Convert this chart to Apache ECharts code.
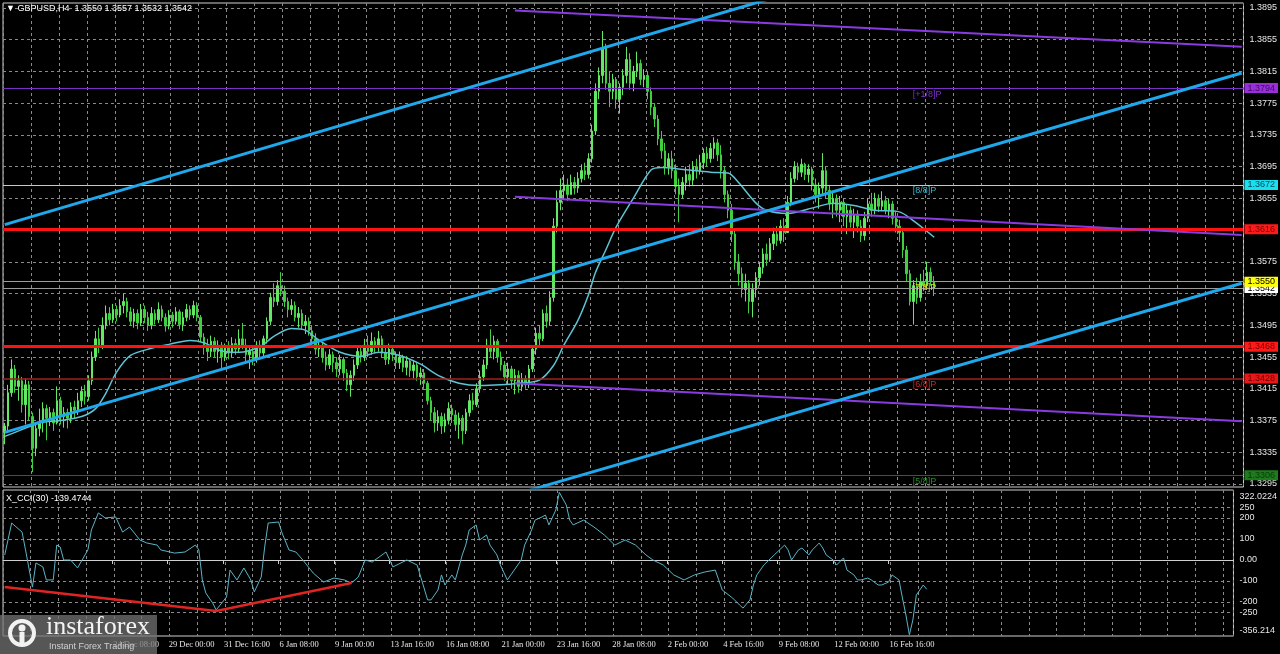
<!DOCTYPE html>
<html><head><meta charset="utf-8">
<script src="https://cdn.jsdelivr.net/npm/echarts@6/dist/echarts.min.js"></script>
<style>html,body{margin:0;padding:0;background:#000;overflow:hidden}#c{width:1280px;height:654px}</style>
</head><body><div id="c"></div>
<script>
// ---------------- DATA ----------------
const N_SLOTS = 355; // bar slots on the time axis (incl. empty right margin)
const firstOpen = 1.3360;
const closes = [
1.3368,1.3410,1.3440,1.3418,1.3425,1.3395,1.3420,1.3380,1.3340,1.3365,
1.3372,1.3390,1.3378,1.3385,1.3372,1.3400,1.3380,1.3385,1.3378,1.3392,
1.3388,1.3400,1.3412,1.3405,1.3425,1.3455,1.3478,1.3470,1.3495,1.3510,
1.3502,1.3515,1.3508,1.3520,1.3525,1.3512,1.3500,1.3510,1.3498,1.3515,
1.3505,1.3495,1.3510,1.3502,1.3515,1.3505,1.3494,1.3508,1.3500,1.3512,
1.3496,1.3505,1.3515,1.3508,1.3520,1.3505,1.3480,1.3470,1.3462,1.3475,
1.3462,1.3470,1.3455,1.3468,1.3460,1.3472,1.3465,1.3478,1.3470,1.3458,
1.3462,1.3452,1.3470,1.3460,1.3478,1.3500,1.3530,1.3525,1.3545,1.3538,
1.3525,1.3515,1.3520,1.3505,1.3510,1.3495,1.3500,1.3488,1.3478,1.3465,
1.3470,1.3455,1.3445,1.3458,1.3448,1.3440,1.3452,1.3435,1.3420,1.3432,
1.3445,1.3462,1.3455,1.3470,1.3462,1.3475,1.3468,1.3478,1.3460,1.3452,
1.3465,1.3458,1.3448,1.3455,1.3442,1.3450,1.3438,1.3445,1.3430,1.3435,
1.3422,1.3400,1.3385,1.3372,1.3380,1.3368,1.3376,1.3390,1.3382,1.3370,
1.3378,1.3362,1.3385,1.3400,1.3395,1.3415,1.3430,1.3445,1.3470,1.3462,
1.3475,1.3455,1.3445,1.3430,1.3440,1.3425,1.3432,1.3418,1.3428,1.3420,
1.3440,1.3465,1.3485,1.3478,1.3510,1.3500,1.3530,1.3620,1.3650,1.3665,
1.3672,1.3660,1.3675,1.3668,1.3680,1.3690,1.3685,1.3705,1.3740,1.3790,
1.3810,1.3845,1.3800,1.3790,1.3805,1.3780,1.3795,1.3810,1.3830,1.3800,
1.3815,1.3825,1.3805,1.3810,1.3790,1.3770,1.3755,1.3730,1.3715,1.3695,
1.3705,1.3690,1.3670,1.3660,1.3675,1.3685,1.3678,1.3695,1.3690,1.3700,
1.3712,1.3705,1.3718,1.3725,1.3710,1.3690,1.3660,1.3640,1.3610,1.3575,
1.3560,1.3540,1.3548,1.3525,1.3540,1.3555,1.3568,1.3585,1.3578,1.3598,
1.3610,1.3602,1.3620,1.3612,1.3650,1.3680,1.3695,1.3688,1.3698,1.3685,
1.3692,1.3672,1.3660,1.3668,1.3690,1.3665,1.3648,1.3655,1.3640,1.3650,
1.3632,1.3640,1.3625,1.3635,1.3620,1.3608,1.3630,1.3648,1.3640,1.3655,
1.3645,1.3652,1.3640,1.3648,1.3630,1.3620,1.3612,1.3590,1.3560,1.3525,
1.3545,1.3530,1.3550,1.3545,1.3562,1.3550,1.3542];
const highs = [
1.3372,1.3420,1.3452,1.3445,1.3432,1.3430,1.3428,1.3425,1.3385,1.3372,
1.3390,1.3398,1.3395,1.3392,1.3390,1.3418,1.3405,1.3392,1.3390,1.3398,
1.3400,1.3410,1.3418,1.3420,1.3432,1.3462,1.3488,1.3492,1.3505,1.3520,
1.3518,1.3522,1.3520,1.3528,1.3535,1.3530,1.3518,1.3516,1.3515,1.3522,
1.3520,1.3512,1.3518,1.3515,1.3524,1.3520,1.3510,1.3514,1.3512,1.3518,
1.3515,1.3512,1.3522,1.3520,1.3526,1.3524,1.3508,1.3485,1.3478,1.3482,
1.3480,1.3476,1.3474,1.3472,1.3475,1.3480,1.3478,1.3490,1.3498,1.3478,
1.3470,1.3468,1.3475,1.3476,1.3482,1.3505,1.3536,1.3548,1.3552,1.3562,
1.3545,1.3530,1.3528,1.3525,1.3518,1.3515,1.3508,1.3505,1.3495,1.3485,
1.3478,1.3474,1.3462,1.3465,1.3462,1.3455,1.3458,1.3455,1.3440,1.3438,
1.3452,1.3468,1.3470,1.3478,1.3482,1.3486,1.3480,1.3488,1.3482,1.3468,
1.3472,1.3470,1.3462,1.3462,1.3458,1.3456,1.3452,1.3450,1.3448,1.3442,
1.3440,1.3425,1.3405,1.3392,1.3388,1.3385,1.3384,1.3398,1.3395,1.3388,
1.3385,1.3382,1.3390,1.3408,1.3410,1.3422,1.3438,1.3452,1.3478,1.3490,
1.3482,1.3478,1.3462,1.3450,1.3448,1.3444,1.3440,1.3438,1.3435,1.3432,
1.3445,1.3470,1.3492,1.3495,1.3515,1.3520,1.3538,1.3630,1.3665,1.3680,
1.3685,1.3680,1.3685,1.3682,1.3688,1.3698,1.3700,1.3712,1.3748,1.3800,
1.3820,1.3866,1.3850,1.3815,1.3812,1.3808,1.3800,1.3818,1.3846,1.3838,
1.3822,1.3840,1.3830,1.3818,1.3815,1.3795,1.3775,1.3760,1.3740,1.3725,
1.3712,1.3715,1.3698,1.3680,1.3682,1.3695,1.3698,1.3702,1.3705,1.3710,
1.3718,1.3720,1.3725,1.3732,1.3730,1.3722,1.3695,1.3665,1.3648,1.3615,
1.3585,1.3568,1.3560,1.3552,1.3548,1.3562,1.3575,1.3592,1.3598,1.3605,
1.3618,1.3620,1.3628,1.3630,1.3658,1.3688,1.3702,1.3700,1.3705,1.3700,
1.3698,1.3695,1.3680,1.3675,1.3712,1.3695,1.3672,1.3662,1.3660,1.3658,
1.3655,1.3648,1.3645,1.3642,1.3640,1.3628,1.3638,1.3655,1.3662,1.3662,
1.3660,1.3664,1.3658,1.3655,1.3652,1.3638,1.3628,1.3618,1.3595,1.3565,
1.3552,1.3555,1.3560,1.3565,1.3575,1.3568,1.3557];
const lows = [
1.3345,1.3362,1.3405,1.3410,1.3400,1.3385,1.3370,1.3375,1.3310,1.3330,
1.3355,1.3360,1.3350,1.3368,1.3362,1.3370,1.3370,1.3366,1.3365,1.3372,
1.3378,1.3382,1.3392,1.3395,1.3400,1.3420,1.3450,1.3460,1.3465,1.3490,
1.3495,1.3498,1.3500,1.3505,1.3510,1.3505,1.3495,1.3492,1.3490,1.3494,
1.3498,1.3488,1.3490,1.3496,1.3498,1.3500,1.3487,1.3490,1.3492,1.3496,
1.3490,1.3488,1.3500,1.3502,1.3504,1.3500,1.3474,1.3458,1.3450,1.3455,
1.3455,1.3448,1.3440,1.3450,1.3452,1.3455,1.3458,1.3460,1.3465,1.3450,
1.3440,1.3445,1.3448,1.3452,1.3455,1.3472,1.3495,1.3518,1.3520,1.3532,
1.3518,1.3505,1.3508,1.3500,1.3492,1.3490,1.3484,1.3482,1.3470,1.3458,
1.3455,1.3448,1.3438,1.3440,1.3436,1.3430,1.3432,1.3425,1.3412,1.3405,
1.3425,1.3440,1.3448,1.3450,1.3455,1.3458,1.3460,1.3462,1.3455,1.3445,
1.3446,1.3450,1.3440,1.3440,1.3436,1.3432,1.3430,1.3428,1.3425,1.3420,
1.3415,1.3395,1.3375,1.3360,1.3362,1.3358,1.3360,1.3370,1.3372,1.3362,
1.3352,1.3345,1.3358,1.3380,1.3388,1.3392,1.3410,1.3425,1.3440,1.3455,
1.3452,1.3448,1.3438,1.3425,1.3420,1.3415,1.3408,1.3410,1.3412,1.3415,
1.3416,1.3436,1.3458,1.3470,1.3475,1.3492,1.3495,1.3525,1.3612,1.3640,
1.3655,1.3652,1.3660,1.3660,1.3662,1.3675,1.3678,1.3680,1.3700,1.3735,
1.3780,1.3800,1.3792,1.3770,1.3780,1.3768,1.3762,1.3785,1.3800,1.3792,
1.3790,1.3808,1.3798,1.3795,1.3780,1.3760,1.3745,1.3722,1.3705,1.3685,
1.3685,1.3680,1.3660,1.3625,1.3655,1.3665,1.3670,1.3672,1.3680,1.3685,
1.3692,1.3695,1.3700,1.3705,1.3702,1.3680,1.3650,1.3630,1.3600,1.3565,
1.3545,1.3530,1.3525,1.3510,1.3505,1.3530,1.3545,1.3560,1.3570,1.3575,
1.3590,1.3595,1.3598,1.3600,1.3615,1.3645,1.3675,1.3678,1.3682,1.3678,
1.3675,1.3665,1.3650,1.3642,1.3660,1.3655,1.3640,1.3630,1.3632,1.3625,
1.3620,1.3610,1.3618,1.3605,1.3612,1.3600,1.3602,1.3625,1.3632,1.3635,
1.3638,1.3640,1.3635,1.3630,1.3622,1.3612,1.3600,1.3580,1.3550,1.3520,
1.3496,1.3522,1.3525,1.3538,1.3540,1.3545,1.3532];
// moving average, read at sample bars [bar, value]
const maPoints = [[0,1.3355],[4,1.3362],[10,1.3372],[16,1.3375],[22,1.3380],[26,1.3390],[29,1.3410],[32,1.3436],[36,1.3457],[42,1.3466],[47,1.3471],[53,1.3476],[57,1.3473],[62,1.3463],[67,1.3461],[73,1.3468],[77,1.3481],[82,1.3491],[86,1.3489],[90,1.3476],[96,1.3461],[102,1.3456],[107,1.3461],[113,1.3457],[119,1.3446],[124,1.3432],[130,1.3422],[136,1.3419],[142,1.3420],[147,1.3422],[153,1.3426],[157,1.3444],[160,1.3470],[164,1.3501],[167,1.3533],[169,1.3561],[172,1.3590],[175,1.3619],[180,1.3656],[185,1.3691],[188,1.3694],[195,1.3691],[202,1.3688],[207,1.3687],[210,1.3675],[215,1.3649],[218,1.3640],[224,1.3636],[232,1.3644],[237,1.3649],[243,1.3646],[249,1.3640],[256,1.3638],[260,1.3627],[266,1.3606]];
// CCI(30) read at sample bars [bar, value]
const cciPoints = [[0,24],[2,176],[5,133],[6,48],[8,-129],[9,-14],[11,-33],[12,-95],[14,-95],[15,71],[16,62],[17,0],[19,0],[21,-38],[24,48],[25,143],[27,224],[29,200],[32,205],[34,133],[36,157],[39,95],[41,81],[44,71],[45,48],[49,33],[52,38],[55,71],[56,48],[57,-95],[58,-157],[60,-205],[61,-238],[64,-176],[65,-48],[67,-95],[69,-38],[71,-95],[72,-152],[74,-81],[75,62],[76,176],[79,181],[80,129],[82,48],[84,38],[86,0],[89,-62],[92,-105],[95,-86],[98,-95],[100,-110],[102,-81],[104,0],[106,-10],[110,38],[112,-33],[116,0],[119,-24],[122,-190],[123,-190],[125,-143],[126,-71],[127,-119],[129,-71],[130,-95],[132,24],[133,71],[134,143],[136,167],[137,95],[139,119],[140,71],[142,24],[143,-24],[145,-95],[146,-71],[147,-48],[149,0],[150,71],[152,143],[153,190],[155,205],[156,214],[157,167],[159,238],[160,322.0224],[162,262],[163,190],[164,167],[167,190],[170,157],[173,119],[176,71],[179,95],[182,71],[185,24],[187,0],[190,-24],[193,-71],[196,-95],[199,-71],[202,-57],[205,-48],[206,-95],[207,-143],[210,-181],[212,-214],[213,-229],[215,-190],[216,-119],[217,-71],[219,-24],[222,24],[225,71],[226,48],[227,0],[229,48],[230,57],[232,24],[233,48],[235,81],[236,57],[237,24],[239,0],[240,-24],[242,10],[243,-48],[245,-71],[246,-95],[247,-95],[249,-86],[250,-95],[252,-119],[253,-119],[255,-105],[256,-71],[258,-95],[259,-181],[260,-262],[261,-356.214],[262,-286],[263,-167],[265,-119],[266,-139.4744]];
const cciTrend = [[0,-129],[61,-243],[100,-110]];
// channel / trend lines [bar, price]
const upperChannel = [[0,1.3622],[230,1.3921]];
const midChannel = [[0,1.3360],[354,1.3813]];
const lowerChannel = [[150,1.3287],[354,1.3548]];
const purpleTop = [[146,1.3892],[354,1.3846]];
const purpleMid = [[146,1.3657],[354,1.3609]];
const purpleLow = [[146,1.3422],[354,1.3374]];
// horizontal levels
const levelValues = [1.3794, 1.3672, 1.3616, 1.3550, 1.3542, 1.3468, 1.3428, 1.3306];
const levelTags = ['[+1/8]P','[8/8]P','','[7/8]P','','','[6/8]P','[5/8]P'];
const tagBar = 260;
// axis tick labels
const timeLabels = ['24 Dec 08:00','29 Dec 00:00','31 Dec 16:00','6 Jan 08:00','9 Jan 00:00','13 Jan 16:00','16 Jan 08:00','21 Jan 00:00','23 Jan 16:00','28 Jan 08:00','2 Feb 00:00','4 Feb 16:00','9 Feb 08:00','12 Feb 00:00','16 Feb 16:00'];
const timeLabelBars = [31,47,63,79,95,111,127,143,159,175,191,207,223,239,255];
const priceTicks = [1.3295,1.3335,1.3375,1.3415,1.3455,1.3495,1.3535,1.3575,1.3615,1.3655,1.3695,1.3735,1.3775,1.3815,1.3855,1.3895];
const cciTicks = [-250,-200,-100,0,100,200,250];
const cciLabelValues = [-356.214,-250,-200,-100,0,100,200,250,322.0224];

// ---------------- STYLES ----------------
const levelStyles = [
  {line:'#7b2fc4', w:1, bg:'#9a2fd8', fg:'#3c0a6a', tag:'#7b2fc4'},
  {line:'#8fdcea', w:1, bg:'#19dff0', fg:'#004a55', tag:'#39b9d0'},
  {line:'#ff1212', w:3, bg:'#ff1a1a', fg:'#7a0000', tag:'#ff1212'},
  {line:'#aaa35c', w:1, bg:'#ffff00', fg:'#000000', tag:'#e8d820'},
  {line:'#9a9a9a', w:1, bg:'#ffffff', fg:'#000000', tag:'#9a9a9a'},
  {line:'#ff1212', w:3, bg:'#ff1a1a', fg:'#7a0000', tag:'#ff1212'},
  {line:'#9c2222', w:1.5, bg:'#e81818', fg:'#700000', tag:'#c22a2a'},
  {line:'#1f6a1f', w:1, bg:'#1d7a1d', fg:'#0a3a0a', tag:'#2a8a2a'}
];
const FONT = 'Liberation Sans';
const gridColor = '#8a8a8a';

// ---------------- BUILD ----------------
const cats = Array.from({length: N_SLOTS}, (_, i) => String(i));
const candles = closes.map((c, i) => {
  const o = i === 0 ? firstOpen : closes[i - 1];
  return [o, c, Math.min(lows[i], o, c), Math.max(highs[i], o, c)];
});
const last = candles[candles.length - 1];
const ohlcText = [last[0], last[3], last[2], last[1]].map(v => v.toFixed(4)).join(' ');
const cciLast = cciPoints[cciPoints.length - 1][1];

const isTimeLabel = (i) => timeLabelBars.indexOf(Number(i)) >= 0;

const levelLines = levelValues.map((v, k) => ({
  yAxis: v,
  lineStyle: {color: levelStyles[k].line, width: levelStyles[k].w, type: 'solid'},
  label: {show: true, position: 'end', distance: 1, formatter: v.toFixed(4),
    backgroundColor: levelStyles[k].bg, color: levelStyles[k].fg,
    padding: [1, 3, 0, 3], fontSize: 9, fontFamily: FONT}
}));
// draw white bid label under the yellow one
const levelOrder = [4,0,1,2,3,5,6,7];
const tagPoints = levelValues.map((v, k) => levelTags[k] ? ({
  coord: [String(tagBar), v], symbol: 'rect', symbolSize: 1,
  itemStyle: {color: 'rgba(0,0,0,0)'},
  label: {show: true, formatter: levelTags[k], position: [0, 2], align: 'left', verticalAlign: 'top',
    color: levelStyles[k].tag, fontSize: 9, fontFamily: FONT}
}) : null).filter(Boolean);

function trend(data, color, width) {
  return {type: 'line', xAxisIndex: 0, yAxisIndex: 0, data: data, symbol: 'none', silent: true,
    lineStyle: {color: color, width: width}, z: 6, clip: true, animation: false};
}

const chart = echarts.init(document.getElementById('c'), null, {renderer: 'canvas'});
chart.setOption({
  backgroundColor: '#000000',
  animation: false,
  textStyle: {fontFamily: FONT},
  title: [
    {text: '\u25BC GBPUSD,H4  ' + ohlcText, left: 6, top: 4, padding: 0,
      textStyle: {color: '#ffffff', fontSize: 9, fontWeight: 'normal', fontFamily: FONT}},
    {text: 'X_CCI(30) ' + cciLast, left: 6, top: 494, padding: 0,
      textStyle: {color: '#ffffff', fontSize: 9, fontWeight: 'normal', fontFamily: FONT}}
  ],
  grid: [
    {left: 3, right: 36, top: 3, bottom: 167, show: true, borderColor: '#cfcfcf', borderWidth: 1, backgroundColor: 'transparent'},
    {left: 3, right: 36, top: 490, bottom: 18, show: true, borderColor: '#cfcfcf', borderWidth: 1, backgroundColor: 'transparent'}
  ],
  xAxis: [
    {type: 'category', gridIndex: 0, data: cats, boundaryGap: true,
      axisLine: {show: false}, axisTick: {show: false}, axisLabel: {show: false},
      splitLine: {show: true, interval: (i) => i % 8 === 0, lineStyle: {color: gridColor, type: [3, 3], width: 1}}},
    {type: 'category', gridIndex: 1, data: cats, boundaryGap: true,
      axisLine: {show: true, lineStyle: {color: '#cfcfcf', width: 1}},
      axisTick: {show: true, interval: (i) => isTimeLabel(i), alignWithLabel: true, length: 4, lineStyle: {color: '#cfcfcf'}},
      axisLabel: {show: true, interval: (i) => isTimeLabel(i), align: 'left', margin: 4,
        formatter: (val) => { const k = timeLabelBars.indexOf(Number(val)); return k >= 0 ? timeLabels[k] : ''; },
        color: '#e6e6e6', fontSize: 8.5, fontFamily: 'Liberation Sans Narrow', padding: [0, 0, 0, 1]},
      splitLine: {show: true, interval: (i) => i % 8 === 0, lineStyle: {color: gridColor, type: [3, 3], width: 1}}}
  ],
  yAxis: [
    {type: 'value', gridIndex: 0, position: 'right', min: 1.32912, max: 1.39013,
      axisLine: {show: false}, axisTick: {show: false, customValues: priceTicks},
      axisLabel: {show: true, customValues: priceTicks, formatter: (v) => v.toFixed(4), color: '#e6e6e6', fontSize: 9, fontFamily: FONT, margin: 6},
      splitLine: {show: true, lineStyle: {color: gridColor, type: [3, 3], width: 1}}},
    {type: 'value', gridIndex: 1, position: 'right', min: -361.9, max: 333.3,
      axisLine: {show: false}, axisTick: {show: false, customValues: cciTicks},
      axisLabel: {show: true, customValues: cciLabelValues, formatter: (v) => v === 0 ? '0.00' : String(v),
        color: '#e6e6e6', fontSize: 9, fontFamily: FONT, margin: 6,
        verticalAlignMaxLabel: 'top', verticalAlignMinLabel: 'bottom'},
      splitLine: {show: true, lineStyle: {color: gridColor, type: [3, 3], width: 1}}}
  ],
  series: [
    {type: 'candlestick', xAxisIndex: 0, yAxisIndex: 0, data: candles, barWidth: 2, z: 2,
      itemStyle: {color: '#62e862', color0: '#3fcf3f', borderColor: '#62e862', borderColor0: '#3fcf3f', borderWidth: 1}},
    {type: 'line', xAxisIndex: 0, yAxisIndex: 0, data: maPoints, symbol: 'none', smooth: 0.3,
      lineStyle: {color: '#5ec3d3', width: 1.5}, z: 4,
      markLine: {silent: true, symbol: 'none', animation: false, precision: 4, data: levelOrder.map(k => levelLines[k])},
      markPoint: {silent: true, animation: false, data: tagPoints}},
    trend(purpleTop, '#8a3be0', 2),
    trend(purpleMid, '#8a3be0', 2),
    trend(purpleLow, '#8a3be0', 2),
    trend(upperChannel, '#1fa8ec', 3),
    trend(midChannel, '#1fa8ec', 3),
    trend(lowerChannel, '#1fa8ec', 3),
    {type: 'line', xAxisIndex: 1, yAxisIndex: 1, data: cciPoints, symbol: 'none',
      lineStyle: {color: '#5ab4c6', width: 1}, z: 3},
    {type: 'line', xAxisIndex: 1, yAxisIndex: 1, data: cciTrend, symbol: 'none',
      lineStyle: {color: '#e02424', width: 2.5}, z: 4}
  ],
  graphic: [
    {type: 'rect', shape: {x: 0, y: 615, width: 157, height: 39}, style: {fill: 'rgba(115,115,115,0.75)'}, z: 100},
    {type: 'circle', shape: {cx: 22, cy: 633, r: 12}, style: {fill: 'none', stroke: '#f2f2f2', lineWidth: 4}, z: 101},
    {type: 'circle', shape: {cx: 22, cy: 628, r: 3.5}, style: {fill: '#f2f2f2'}, z: 101},
    {type: 'rect', shape: {x: 19.5, y: 632, width: 5, height: 12}, style: {fill: '#f2f2f2'}, z: 101},
    {type: 'text', x: 46, y: 614, style: {text: 'instaforex', fill: '#f4f4f4', font: '26px "Liberation Sans Narrow"'}, z: 101},
    {type: 'text', x: 49, y: 642, style: {text: 'Instant Forex Trading', fill: '#d0d0d0', font: '9px "Liberation Sans"'}, z: 101}
  ]
});
</script>
</body></html>
